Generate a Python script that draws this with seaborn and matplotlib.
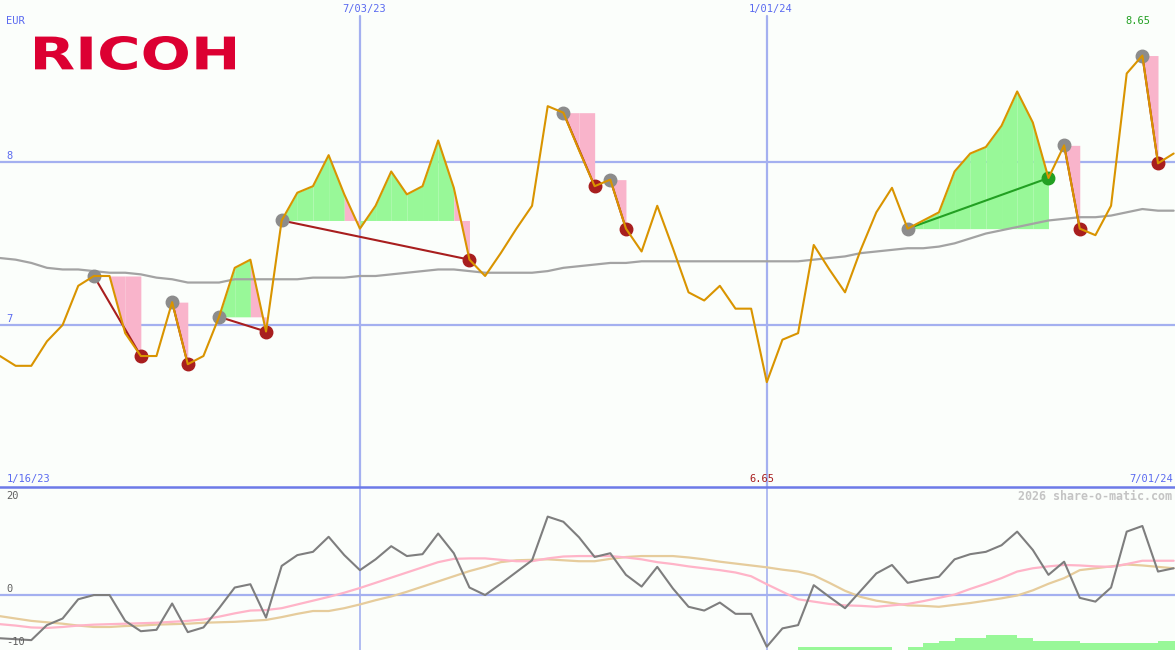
import matplotlib
matplotlib.use("Agg")
import matplotlib.pyplot as plt
import matplotlib.dates as mdates
from matplotlib.font_manager import FontProperties
from matplotlib.patches import PathPatch
from matplotlib.textpath import TextPath
from matplotlib.transforms import Affine2D
import pandas as pd
import seaborn as sns

W, H = 1175, 650

# weekly closes, Ricoh in EUR
weeks = pd.date_range("2023-01-23", periods=76, freq="7D")

close = [6.81, 6.75, 6.75, 6.90, 7.00, 7.24, 7.30, 7.30, 6.95, 6.81,
         6.81, 7.14, 6.76, 6.81, 7.05, 7.35, 7.40, 6.96, 7.64, 7.81,
         7.85, 8.04, 7.80, 7.59, 7.73, 7.94, 7.80, 7.85, 8.13, 7.84,
         7.40, 7.30, 7.44, 7.59, 7.73, 8.34, 8.30, 8.07, 7.85, 7.89,
         7.59, 7.45, 7.73, 7.47, 7.20, 7.15, 7.24, 7.10, 7.10, 6.65,
         6.91, 6.95, 7.49, 7.34, 7.20, 7.46, 7.69, 7.84, 7.59, 7.64,
         7.69, 7.94, 8.05, 8.09, 8.22, 8.43, 8.24, 7.90, 8.10, 7.59,
         7.55, 7.73, 8.54, 8.65, 7.99, 8.05]

avg_line = [7.41, 7.40, 7.38, 7.35, 7.34, 7.34, 7.33, 7.32, 7.32, 7.31,
            7.29, 7.28, 7.26, 7.26, 7.26, 7.28, 7.28, 7.28, 7.28, 7.28,
            7.29, 7.29, 7.29, 7.30, 7.30, 7.31, 7.32, 7.33, 7.34, 7.34,
            7.33, 7.32, 7.32, 7.32, 7.32, 7.33, 7.35, 7.36, 7.37, 7.38,
            7.38, 7.39, 7.39, 7.39, 7.39, 7.39, 7.39, 7.39, 7.39, 7.39,
            7.39, 7.39, 7.40, 7.41, 7.42, 7.44, 7.45, 7.46, 7.47, 7.47,
            7.48, 7.50, 7.53, 7.56, 7.58, 7.60, 7.62, 7.64, 7.65, 7.66,
            7.66, 7.67, 7.69, 7.71, 7.70, 7.70]

# trades: index of entry and exit week
trade_start = [6, 11, 14, 18, 36, 39, 58, 68, 73]
trade_end = [9, 12, 17, 30, 38, 40, 67, 69, 74]

momentum = [-9.2, -9.4, -9.6, -6.4, -5.0, -0.9, 0.0, 0.0, -5.5, -7.7,
            -7.4, -1.8, -7.9, -6.9, -2.8, 1.6, 2.3, -4.8, 6.2, 8.5,
            9.2, 12.4, 8.5, 5.3, 7.6, 10.4, 8.3, 8.7, 13.1, 8.9,
            1.6, 0.0, 2.4, 4.9, 7.4, 16.7, 15.6, 12.3, 8.1, 8.9,
            4.3, 1.8, 6.0, 1.4, -2.5, -3.3, -1.6, -4.0, -4.0, -11.0,
            -7.1, -6.4, 2.1, -0.4, -2.8, 0.9, 4.6, 6.4, 2.6, 3.3,
            3.9, 7.6, 8.7, 9.2, 10.6, 13.5, 9.6, 4.3, 7.1, -0.6,
            -1.4, 1.6, 13.5, 14.7, 5.0, 5.7]

mom_fast = [-6.2, -6.5, -6.9, -7.0, -6.8, -6.5, -6.3, -6.2, -6.1, -6.0,
            -5.9, -5.7, -5.5, -5.2, -4.6, -3.9, -3.3, -3.2, -2.8, -2.0,
            -1.2, -0.4, 0.5, 1.5, 2.6, 3.7, 4.8, 5.9, 7.0, 7.7,
            7.8, 7.8, 7.5, 7.2, 7.2, 7.8, 8.2, 8.3, 8.3, 8.3,
            8.0, 7.6, 7.0, 6.6, 6.1, 5.7, 5.3, 4.8, 4.0, 2.3,
            0.7, -0.9, -1.4, -1.9, -2.2, -2.3, -2.5, -2.2, -1.9, -1.3,
            -0.6, 0.1, 1.3, 2.4, 3.6, 5.0, 5.7, 6.1, 6.4, 6.3,
            6.1, 6.0, 6.6, 7.3, 7.3, 7.3]

mom_slow = [-4.5, -5.0, -5.5, -5.8, -6.1, -6.5, -6.8, -6.8, -6.6, -6.5,
            -6.3, -6.2, -6.1, -5.9, -5.8, -5.7, -5.5, -5.3, -4.7, -4.0,
            -3.4, -3.4, -2.8, -2.0, -1.1, -0.3, 0.7, 1.8, 2.9, 4.0,
            5.1, 6.0, 7.0, 7.4, 7.5, 7.6, 7.4, 7.2, 7.2, 7.7,
            8.1, 8.3, 8.3, 8.3, 8.0, 7.6, 7.1, 6.7, 6.3, 5.9,
            5.4, 5.0, 4.2, 2.6, 0.9, -0.4, -1.2, -1.7, -2.2, -2.3,
            -2.5, -2.1, -1.7, -1.2, -0.7, -0.1, 1.0, 2.4, 3.6, 5.3,
            5.7, 6.1, 6.5, 6.3, 6.0, 5.7]

hist = [0, 0, 0, 0, 0, 0, 0, 0, 0, 0,
        0, 0, 0, 0, 0, 0, 0, 0, 0, 0,
        0, 0, 0, 0, 0, 0, 0, 0, 0, 0,
        0, 0, 0, 0, 0, 0, 0, 0, 0, 0,
        0, 0, 0, 0, 0, 0, 0, 0, 0, 0,
        0, 0.7, 0.7, 0.7, 0.7, 0.7, 0.7, 0, 0.7, 1.4,
        2.0, 2.6, 2.6, 3.2, 3.2, 2.6, 2.0, 2.0, 2.0, 1.4,
        1.4, 1.4, 1.4, 1.4, 2.0, 2.0]

vlines = ["2023-07-03", "2024-01-01"]

BG = "#fbfefb"
GRID = "#a4b0f0"
SEP = "#6c7ae8"
BLUE_TXT = "#5a6af0"
ORANGE = "#d99400"
LOSS = "#a81e1e"
WIN = "#22a022"
PINK = "#f9b4cb"
GREEN = "#98f898"

sns.set_style("white")
plt.rcParams["font.family"] = ["DejaVu Sans Mono", "DejaVu Sans"]

fig = plt.figure(figsize=(W / 100, H / 100), dpi=100, facecolor=BG)
ax = fig.add_axes([0, 163 / H, 1, 487 / H])
ax2 = fig.add_axes([0, 0, 1, 163 / H])

x = mdates.date2num(weeks)
xlim = (x[0], x[0] + 525.6)
low2 = -11.7

for a in (ax, ax2):
    a.set_facecolor(BG)
    a.set_xlim(*xlim)
    a.set_xticks([])
    a.set_yticks([])
    for s in a.spines.values():
        s.set_visible(False)
ax.set_ylim(6.008, 8.99)
ax2.set_ylim(low2, 23.0)

# price panel
for lvl in (8, 7):
    ax.axhline(lvl, color=GRID, lw=1.6, zorder=1)
for d in vlines:
    xd = mdates.date2num(pd.Timestamp(d))
    ax.axvline(xd, ymax=1 - 16 / 487, color=GRID, lw=1.6, zorder=1)
    ax2.axvline(xd, color=GRID, lw=1.2, zorder=1)

for s, e in zip(trade_start, trade_end):
    base = close[s]
    for j in range(s, e):
        col = GREEN if close[j + 1] >= base else PINK
        ax.fill_between(x[j:j + 2], close[j:j + 2], base, color=col, lw=0,
                        antialiased=False, zorder=2)

sns.lineplot(x=x, y=avg_line, ax=ax, color="#a3a3a3", lw=1.6, zorder=3)

for s, e in zip(trade_start, trade_end):
    won = close[e] > close[s]
    c = WIN if won else LOSS
    ax.plot([x[s], x[e]], [close[s], close[e]], color=c, lw=1.5, zorder=4)
    ax.plot(x[s], close[s], "o", ms=9, color="#8c8c8c", zorder=5)
    ax.plot(x[e], close[e], "o", ms=9, color=c, zorder=5)

sns.lineplot(x=x, y=close, ax=ax, color=ORANGE, lw=1.5, zorder=6)

# indicator panel
ax2.axhline(0, color=GRID, lw=1.6, zorder=1)
ax2.bar(x, hist, width=7, bottom=low2, align="edge", color=GREEN, lw=0,
        antialiased=False, zorder=2)
sns.lineplot(x=x, y=mom_slow, ax=ax2, color="#e6cc9c", lw=1.6, zorder=3)
sns.lineplot(x=x, y=mom_fast, ax=ax2, color="#ffb4c8", lw=1.6, zorder=3)
sns.lineplot(x=x, y=momentum, ax=ax2, color="#7e7e7e", lw=1.5, zorder=4)
ax2.spines["top"].set_visible(True)
ax2.spines["top"].set_color(SEP)
ax2.spines["top"].set_linewidth(1.8)


def label(px, py, txt, color=BLUE_TXT, ha="left", size=7.5, **kw):
    fig.text(px / W, 1 - py / H, txt, color=color, ha=ha, va="center", fontsize=size, **kw)


label(6, 21, "EUR")
label(364, 9, "7/03/23", ha="center")
label(771, 9, "1/01/24", ha="center")
label(1138, 21, "8.65", color=WIN, ha="center")
label(6, 156, "8")
label(6, 319, "7")
label(7, 479, "1/16/23")
label(762, 479, "6.65", color=LOSS, ha="center")
label(1173, 479, "7/01/24", ha="right")
label(1172, 496, "2026 share-o-matic.com", color="#c4c4c4", ha="right", size=8.4, fontweight="bold")
label(6, 496, "20", color="#606060")
label(6, 589, "0", color="#606060")
label(6, 642, "-10", color="#606060")

# logo drawn as a path scaled to its box in pixels
tp = TextPath((0, 0), "RICOH", size=100, prop=FontProperties(family="DejaVu Sans", weight="bold"))
bb = tp.get_extents()
tr = Affine2D().translate(-bb.x0, -bb.y0).scale(200 / bb.width, 34 / bb.height).translate(35, H - 70)
fig.add_artist(PathPatch(tp, transform=tr, color="#dc0032", lw=0))

fig.savefig("out.png", dpi=100, facecolor=BG)
